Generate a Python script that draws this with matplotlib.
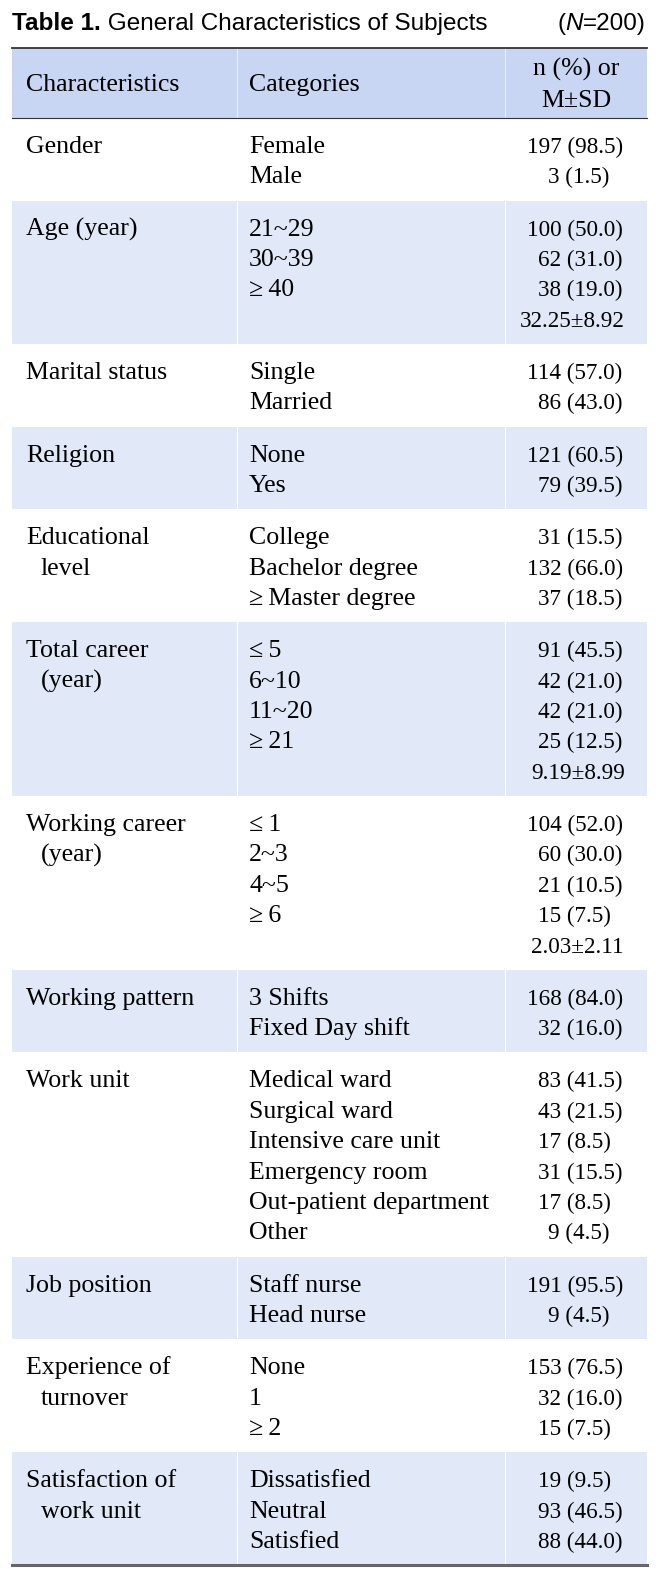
import matplotlib
matplotlib.use("Agg")
import matplotlib.pyplot as plt
from matplotlib.patches import Rectangle

# 表格数据
title_bold = "Table 1."
title_rest = " General Characteristics of Subjects"
n_label = "=200)"
header = ["Characteristics", "Categories", "n (%) or\nM±SD"]

characteristics = [
    "Gender", "Age (year)", "Marital status", "Religion",
    "Educational\nlevel", "Total career\n(year)", "Working career\n(year)",
    "Working pattern", "Work unit", "Job position",
    "Experience of\nturnover", "Satisfaction of\nwork unit",
]
categories = [
    ["Female", "Male"],
    ["21~29", "30~39", "≥\u200940", ""],
    ["Single", "Married"],
    ["None", "Yes"],
    ["College", "Bachelor degree", "≥\u2009Master degree"],
    ["≤\u20095", "6~10", "11~20", "≥\u200921", ""],
    ["≤\u20091", "2~3", "4~5", "≥\u20096", ""],
    ["3 Shifts", "Fixed Day shift"],
    ["Medical ward", "Surgical ward", "Intensive care unit",
     "Emergency room", "Out-patient department", "Other"],
    ["Staff nurse", "Head nurse"],
    ["None", "1", "≥\u20092"],
    ["Dissatisfied", "Neutral", "Satisfied"],
]
values = [
    ["197 (98.5)", "3 (1.5)"],
    ["100 (50.0)", "62 (31.0)", "38 (19.0)", "32.25±8.92"],
    ["114 (57.0)", "86 (43.0)"],
    ["121 (60.5)", "79 (39.5)"],
    ["31 (15.5)", "132 (66.0)", "37 (18.5)"],
    ["91 (45.5)", "42 (21.0)", "42 (21.0)", "25 (12.5)", "9.19±8.99"],
    ["104 (52.0)", "60 (30.0)", "21 (10.5)", "15 (7.5)", "2.03±2.11"],
    ["168 (84.0)", "32 (16.0)"],
    ["83 (41.5)", "43 (21.5)", "17 (8.5)", "31 (15.5)", "17 (8.5)", "9 (4.5)"],
    ["191 (95.5)", "9 (4.5)"],
    ["153 (76.5)", "32 (16.0)", "15 (7.5)"],
    ["19 (9.5)", "93 (46.5)", "88 (44.0)"],
]

# 版式参数 (像素)
W, H = 668, 1569
left, right = 12, 647
col2, col3 = 237, 505
x1, x2 = 26, 249
top_line, head_bottom = 48, 118
pitch, extra = 30.4, 21.8
head_color = "#c8d6f4"
band_color = "#e1e8f8"
serif = ["Liberation Serif", "DejaVu Serif"]
sans = "Liberation Sans"
fs = 18.6      # 文字列
vfs = 16.7     # 数值列
tfs = 17.45

fig = plt.figure(figsize=(W / 100, H / 100), dpi=100)
ax = fig.add_axes([0, 0, 1, 1])
ax.set_xlim(0, W)
ax.set_ylim(H, 0)
ax.axis("off")

# 标题
t = ax.text(left, 30, title_bold, fontsize=tfs, family=sans, weight="bold", va="baseline")
fig.canvas.draw()
r = fig.canvas.get_renderer()
bb = t.get_window_extent(r)
ax.text(left + bb.width, 30, title_rest, fontsize=tfs, family=sans, va="baseline")
t3 = ax.text(646, 30, n_label, fontsize=tfs, family=sans, va="baseline", ha="right")
w3 = t3.get_window_extent(r).width
t4 = ax.text(646 - w3, 30, "N", fontsize=tfs, family=sans, style="italic", va="baseline", ha="right")
w4 = t4.get_window_extent(r).width
ax.text(646 - w3 - w4, 30, "(", fontsize=tfs, family=sans, va="baseline", ha="right")

# 表头
ax.add_patch(Rectangle((left, top_line), right - left, head_bottom - top_line, color=head_color, lw=0))
ax.text(x1, 91, header[0], fontsize=fs, family=serif, va="baseline")
ax.text(x2, 91, header[1], fontsize=fs, family=serif, va="baseline")
for k, s in enumerate(header[2].split("\n")):
    ax.text((col3 + right) / 2, 76 + k * 31, s, fontsize=fs, family=serif, va="baseline", ha="center")
for xc in (col2, col3):
    ax.plot([xc, xc], [top_line, head_bottom], color="white", lw=0.8, alpha=0.6)


def value_x(s):
    if "±" in s:
        nd = len(s.split(".")[0])
        return 520 + (2 - nd) * 11.5
    nd = len(s.split(" ")[0])
    return 527 + (3 - nd) * 10.5


y = head_bottom
for i, (ch, cats, vals) in enumerate(zip(characteristics, categories, values)):
    n = len(vals)
    h = n * pitch + extra
    if i % 2 == 1:
        ax.add_patch(Rectangle((left, y), right - left, h, color=band_color, lw=0))
        for xc in (col2, col3):
            ax.plot([xc, xc], [y, y + h], color="white", lw=0.8)
    base = y + 35
    for k, s in enumerate(ch.split("\n")):
        ax.text(x1 + (15 if k else 0), base + k * pitch, s, fontsize=fs, family=serif, va="baseline")
    for k, s in enumerate(cats):
        ax.text(x2, base + k * pitch, s, fontsize=fs, family=serif, va="baseline")
    for k, s in enumerate(vals):
        ax.text(value_x(s), base + k * pitch, s, fontsize=vfs, family=serif, va="baseline")
    y += h

# 表格线
ax.plot([left, right], [top_line, top_line], color="#333333", lw=1.3)
ax.plot([left, right], [head_bottom, head_bottom], color="#333333", lw=0.8)
ax.plot([left, right], [y, y], color="#666666", lw=2.2)

plt.savefig("out.png", dpi=100)
plt.close()
print("Saved out.png")
